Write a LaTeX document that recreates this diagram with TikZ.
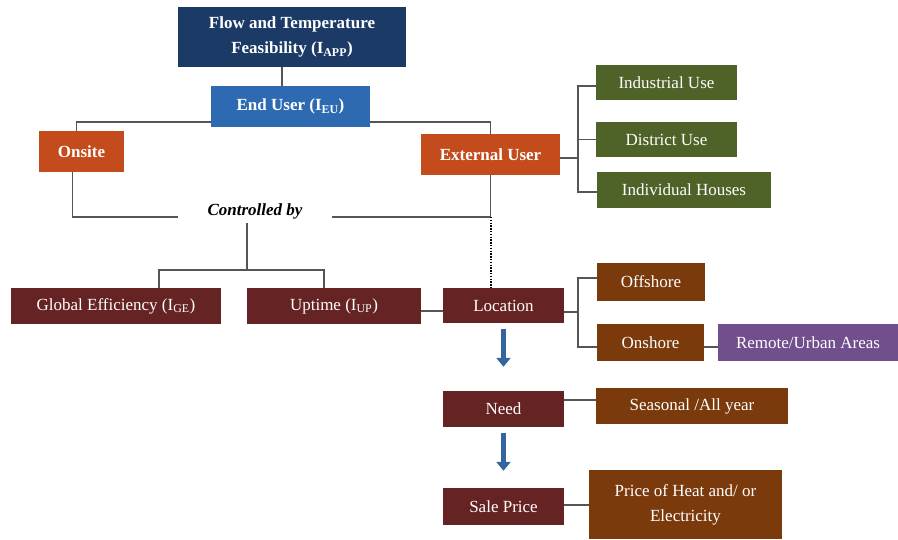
\documentclass[tikz,border=0pt]{standalone}
\usepackage{fontspec}
\setmainfont{Liberation Serif}
\usetikzlibrary{arrows.meta}
\definecolor{navy}{HTML}{1B3A66}
\definecolor{midblue}{HTML}{2E6AB2}
\definecolor{rust}{HTML}{C44C1C}
\definecolor{maroon}{HTML}{662323}
\definecolor{brownbox}{HTML}{7A3A0C}
\definecolor{olive}{HTML}{4F6228}
\definecolor{purplebox}{HTML}{704F8C}
\definecolor{linegray}{HTML}{555555}
\definecolor{arrowblue}{HTML}{34659E}
\begin{document}
\begin{tikzpicture}[x=1pt,y=-1pt,
  box/.style={rectangle, inner sep=0pt, text=white, align=center,
    font=\fontsize{17}{25}\selectfont},
  bbox/.style={box, font=\fontsize{17}{25}\selectfont\bfseries},
  conn/.style={draw=linegray, line width=1.3pt},
  bigarrow/.style={draw=arrowblue, line width=5pt, -{Triangle[width=14pt,length=9pt]}}
]
\useasboundingbox (0,0) rectangle (898,540);
% nodes
\node[bbox, fill=navy, minimum width=228, minimum height=60] (flow) at (292,37) {Flow and Temperature\\Feasibility (I\textsubscript{APP})};
\node[bbox, fill=midblue, minimum width=159, minimum height=41] (eu) at (290.5,106.5) {End User (I\textsubscript{EU})};
\node[bbox, fill=rust, minimum width=85, minimum height=41] (onsite) at (81.5,151.5) {Onsite};
\node[bbox, fill=rust, minimum width=139, minimum height=41] (ext) at (490.5,154.5) {External User};
\node[box, fill=olive, minimum width=141, minimum height=35] (ind) at (666.5,82.5) {Industrial Use};
\node[box, fill=olive, minimum width=141, minimum height=35] (dist) at (666.5,139.5) {District Use};
\node[box, fill=olive, minimum width=174, minimum height=36] (indiv) at (684,190) {Individual Houses};
\node[inner sep=0pt, minimum width=154, minimum height=20, font=\fontsize{17}{20}\selectfont\bfseries\itshape] (ctrl) at (255,211) {Controlled by};
\node[box, fill=maroon, minimum width=210, minimum height=36] (glob) at (116,306) {Global Efficiency (I\textsubscript{GE})};
\node[box, fill=maroon, minimum width=174, minimum height=36] (upt) at (334,306) {Uptime (I\textsubscript{UP})};
\node[box, fill=maroon, minimum width=121, minimum height=35] (loc) at (503.5,305.5) {Location};
\node[box, fill=brownbox, minimum width=108, minimum height=38] (off) at (651,282) {Offshore};
\node[box, fill=brownbox, minimum width=107, minimum height=37] (onsh) at (650.5,342.5) {Onshore};
\node[box, fill=purplebox, minimum width=180, minimum height=37] (remote) at (808,342.5) {Remote/Urban Areas};
\node[box, fill=maroon, minimum width=121, minimum height=36] (need) at (503.5,409) {Need};
\node[box, fill=brownbox, minimum width=192, minimum height=36] (seas) at (692,406) {Seasonal /All year};
\node[box, fill=maroon, minimum width=121, minimum height=37] (sale) at (503.5,506.5) {Sale Price};
\node[box, fill=brownbox, minimum width=193, minimum height=69] (price) at (685.5,504.5) {Price of Heat and/ or\\Electricity};
% junction coordinates
\coordinate (split) at (247,270);
\coordinate (lb) at (578,312);
\coordinate (eb) at (578,158);
% connectors
\draw[conn] ([xshift=-10]flow.south) -- ([xshift=-10]flow.south |- eu.north);
\draw[conn] ([yshift=-15.5]eu.west) -| ([xshift=-5]onsite.north);
\draw[conn] ([yshift=-15.5]eu.east) -| (ext.north);
\draw[conn] ([xshift=-9]onsite.south) |- ([yshift=-6]ctrl.west);
\draw[conn] ([yshift=-6]ctrl.east) -| (ext.south);
\draw[black, line width=2pt, dash pattern=on 1.4pt off 1.4pt] ([yshift=-6]ctrl.east -| ext.south) -- (ext.south |- loc.north);
\draw[conn] ([xshift=-8,yshift=-2]ctrl.south) -- (split);
\draw[conn] ([xshift=43]glob.north) |- (split) -| ([xshift=-10]upt.north);
\draw[conn] ([yshift=-5]upt.east) -- ([yshift=-5]upt.east -| loc.west);
\draw[conn] ([yshift=-6.5]loc.east) -- (lb);
\draw[conn] ([yshift=4]off.west) -| (lb) |- ([yshift=-4.5]onsh.west);
\draw[conn] ([yshift=-4.5]onsh.east) -- ([yshift=-4.5]onsh.east -| remote.west);
\draw[conn] ([yshift=-3.5]ext.east) -- (eb);
\draw[conn] ([yshift=-3.5]ind.west) -| (eb) |- ([yshift=-2]indiv.west);
\draw[conn] (dist.west) -- (dist.west -| eb);
\draw[conn] ([yshift=9]need.east) -- ([yshift=9]need.east -| seas.west);
\draw[conn] ([yshift=1.5]sale.east) -- ([yshift=1.5]sale.east -| price.west);
\draw[bigarrow, shorten <=6pt, shorten >=24pt] (loc.south) -- (need.north);
\draw[bigarrow, shorten <=6pt, shorten >=17pt] (need.south) -- (sale.north);
\end{tikzpicture}
\end{document}
